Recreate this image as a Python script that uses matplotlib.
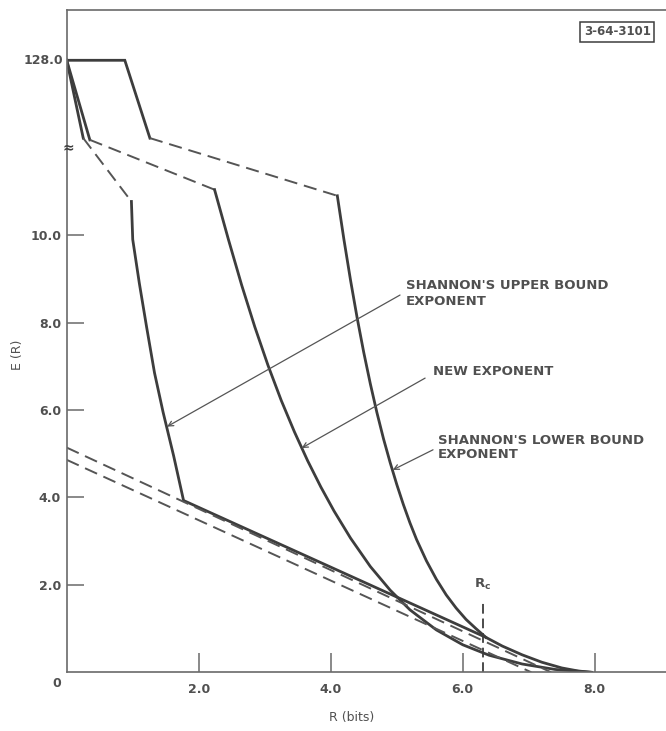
import numpy as np
import matplotlib.pyplot as plt

plt.rcParams['lines.scale_dashes'] = False
plt.rcParams['font.family'] = ['DejaVu Sans']

# values, in the chart's own axis units
# (the axis is broken above 12: the top level 128.0 is drawn at 14)
top_label = '128.0'
top_level = 14.0

# Shannon's upper bound exponent (left curve)
ub_head_x = [0.0, 0.25]
ub_head_y = [14.0, 12.22]
ub_dash_x = [0.25, 0.98]
ub_dash_y = [12.22, 10.77]
ub_x = [0.98, 1.0, 1.10, 1.21, 1.33, 1.46, 1.62, 1.77, 6.35, 6.6, 6.9, 7.2, 7.5, 7.75, 7.95]
ub_y = [10.77, 9.9, 8.9, 7.9, 6.85, 5.95, 4.95, 3.93, 0.80, 0.60, 0.40, 0.23, 0.10, 0.03, 0.0]

# new exponent (middle curve)
ne_head_x = [0.0, 0.35]
ne_head_y = [14.0, 12.18]
ne_dash_x = [0.35, 2.24]
ne_dash_y = [12.18, 11.04]
ne_x = [2.24, 2.45, 2.65, 2.85, 3.05, 3.25, 3.45, 3.65, 3.85, 4.05, 4.3, 4.6,
        4.9, 5.2, 5.6, 6.0, 6.4, 6.9, 7.4, 7.95]
ne_y = [11.04, 9.9, 8.86, 7.90, 7.02, 6.22, 5.50, 4.84, 4.24, 3.69, 3.07, 2.42,
        1.88, 1.43, 0.97, 0.63, 0.39, 0.19, 0.065, 0.0]

# Shannon's lower bound exponent (right curve), joins the left one at Rc
lb_head_x = [0.0, 0.88, 1.26]
lb_head_y = [14.0, 14.0, 12.22]
lb_dash_x = [1.26, 4.10]
lb_dash_y = [12.22, 10.9]
lb_x = [4.10, 4.20, 4.30, 4.40, 4.50, 4.60, 4.70, 4.80, 4.90, 5.00, 5.10, 5.20,
        5.30, 5.45, 5.60, 5.75, 5.90, 6.05, 6.20, 6.35]
lb_y = [10.9, 9.9, 8.97, 8.11, 7.32, 6.60, 5.94, 5.34, 4.80, 4.30, 3.84, 3.42,
        3.04, 2.55, 2.13, 1.77, 1.47, 1.21, 1.00, 0.80]

# straight dashed lines near the bottom (intercepts on both axes)
line1_x = [0.0, 7.34]
line1_y = [5.14, 0.0]
line2_x = [0.0, 7.04]
line2_y = [4.86, 0.0]

rc = 6.3
rc_top = 1.62

xticks = [2, 4, 6, 8]
xticklabels = ['2.0', '4.0', '6.0', '8.0']
yticks = [2, 4, 6, 8, 10]
yticklabels = ['2.0', '4.0', '6.0', '8.0', '10.0']

ink = '#3d3d3d'
txt = '#505050'
axc = '#6a6a6a'

fig = plt.figure(figsize=(6.66, 7.31), dpi=100)
ax = fig.add_axes([0.1002, 0.0803, 0.8998, 0.9060])
ax.set_xlim(0, 9.08)
ax.set_ylim(0, 15.15)

for s in ['left', 'bottom', 'top']:
    ax.spines[s].set_color(axc)
    ax.spines[s].set_linewidth(1.2)
ax.spines['right'].set_visible(False)

ax.set_xticks(xticks)
ax.set_xticklabels(xticklabels)
ax.set_yticks(yticks)
ax.set_yticklabels(yticklabels)
ax.tick_params(axis='x', direction='in', length=14, width=1.1, color=axc,
               pad=8, labelsize=9, labelcolor=txt)
ax.tick_params(axis='y', direction='in', length=12, width=1.1, color=axc,
               pad=4, labelsize=9, labelcolor=txt)
for lab in ax.get_xticklabels() + ax.get_yticklabels():
    lab.set_fontweight('bold')

ax.text(-0.06, top_level, top_label, ha='right', va='center', fontsize=9,
        fontweight='bold', color=txt)
ax.text(-0.15, -0.26, '0', ha='center', va='center', fontsize=9,
        fontweight='bold', color=txt, clip_on=False)
ax.text(0.02, 12.0, '≈', ha='center', va='center', fontsize=10,
        fontweight='bold', color=ink)

dash = (0, (9.5, 5))
for hx, hy, dx, dy, cx, cy in [(ub_head_x, ub_head_y, ub_dash_x, ub_dash_y, ub_x, ub_y),
                               (ne_head_x, ne_head_y, ne_dash_x, ne_dash_y, ne_x, ne_y),
                               (lb_head_x, lb_head_y, lb_dash_x, lb_dash_y, lb_x, lb_y)]:
    ax.plot(hx, hy, color=ink, lw=2.0, solid_joinstyle='miter')
    ax.plot(dx, dy, color='#555555', lw=1.4, linestyle=dash)
    ax.plot(cx, cy, color=ink, lw=2.0)

ax.plot(line1_x, line1_y, color='#555555', lw=1.4, linestyle=dash)
ax.plot(line2_x, line2_y, color='#555555', lw=1.4, linestyle=dash)

ax.plot([rc, rc], [0, rc_top], color=ink, lw=1.3, linestyle=(0, (7, 3.5)))
ax.text(rc, 2.0, r'R$_\mathregular{c}$', ha='center', va='center', fontsize=9.5,
        fontweight='bold', color=txt)

arrow = dict(arrowstyle='->', lw=0.9, color='#555555', shrinkA=0, shrinkB=0,
             mutation_scale=9)
ax.annotate('', xy=(1.52, 5.62), xytext=(5.05, 8.63), arrowprops=arrow)
ax.annotate('', xy=(3.56, 5.13), xytext=(5.43, 6.73), arrowprops=arrow)
ax.annotate('', xy=(4.94, 4.63), xytext=(5.55, 5.09), arrowprops=arrow)

ax.text(5.14, 8.67, "SHANNON'S UPPER BOUND\nEXPONENT", ha='left', va='center',
        fontsize=9.5, fontweight='bold', color=txt, linespacing=1.25)
ax.text(5.55, 6.88, 'NEW EXPONENT', ha='left', va='center', fontsize=9.5,
        fontweight='bold', color=txt)
ax.text(5.62, 5.14, "SHANNON'S LOWER BOUND\nEXPONENT", ha='left', va='center',
        fontsize=9.5, fontweight='bold', color=txt, linespacing=1.15)

ax.text(8.34, 14.65, '3-64-3101', ha='center', va='center', fontsize=8.5,
        fontweight='bold', color=txt,
        bbox=dict(boxstyle='square,pad=0.3', fc='white', ec=ink, lw=1.1))

fig.text(17 / 666, 1 - 355 / 731, 'E (R)', rotation=90, ha='center', va='center',
         fontsize=9, color=txt)
fig.text(352 / 666, 1 - 718 / 731, 'R (bits)', ha='center', va='center',
         fontsize=9, color=txt)

fig.savefig('out.png', dpi=100)
